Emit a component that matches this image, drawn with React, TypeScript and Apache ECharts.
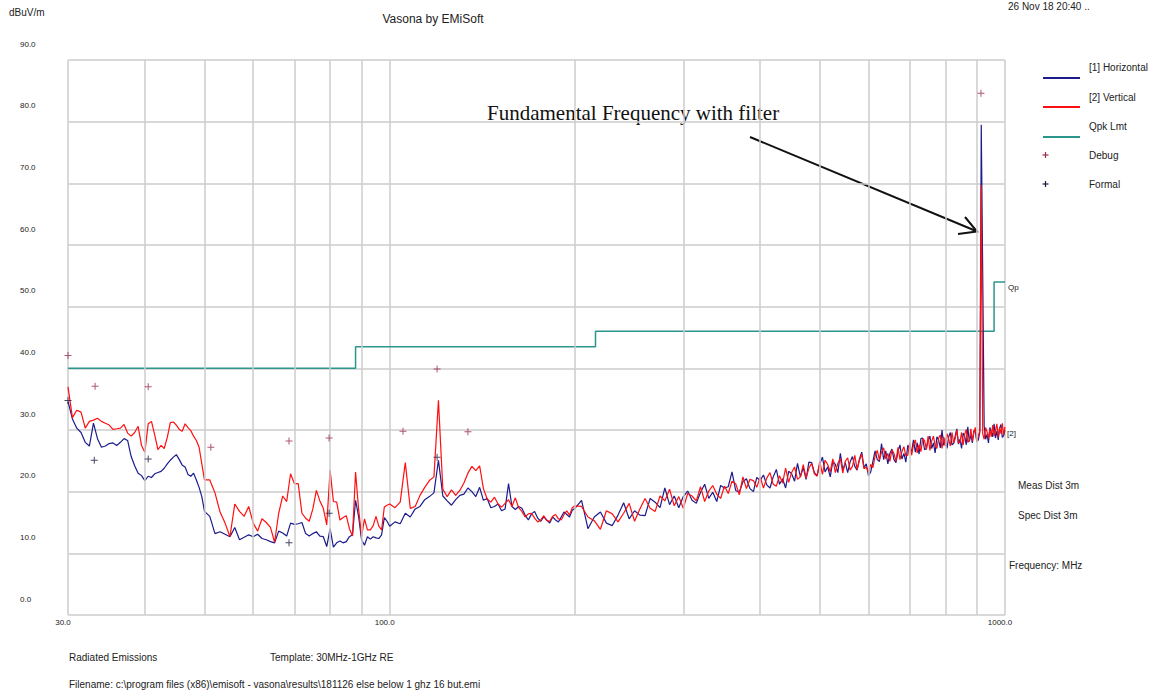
import React, { useEffect, useRef } from "react";
import * as echarts from "echarts";

// ---------- DATA ----------
const freqs = [
  30, 30.5, 31, 31.5, 32, 32.5, 33, 33.5, 34, 34.5, 35, 35.5, 36, 36.5, 37, 37.5, 38, 38.5, 39, 39.5,
  40, 40.5, 41, 41.5, 42, 42.5, 43, 43.5, 44, 44.5, 45, 45.5, 46, 46.5, 47, 47.5, 48, 48.5, 49, 49.5, 50,
  51, 52, 53, 54, 55, 56, 57, 58, 59, 60, 61, 62, 63, 64, 65, 66, 67, 68, 69, 70,
  71, 72, 73, 74, 75, 76, 77, 78, 79, 80, 81, 82, 83, 84, 85, 86, 87, 88, 89, 90,
  91, 92, 93, 94, 95, 96, 97, 98, 99, 100,
  102, 104, 106, 108, 110, 112, 114, 116, 118, 120, 122, 124, 126, 128, 130, 132, 134, 136, 138, 140,
  142, 144, 146, 148, 150, 152, 154, 156, 158, 160, 162, 164, 166, 168, 170, 172, 174, 176, 178, 180,
  182, 184, 186, 188, 190, 192, 194, 196, 198, 200,
  205, 210, 215, 220, 225, 230, 235, 240, 245, 250, 255, 260, 265, 270, 275, 280, 285, 290, 295, 300,
  305, 310, 315, 320, 325, 330, 335, 340, 345, 350, 355, 360, 365, 370, 375, 380, 385, 390, 395, 400,
  405, 410, 415, 420, 425, 430, 435, 440, 445, 450, 455, 460, 465, 470, 475, 480, 485, 490, 495, 500,
  505, 510, 515, 520, 525, 530, 535, 540, 545, 550, 555, 560, 565, 570, 575, 580, 585, 590, 595, 600,
  605, 610, 615, 620, 625, 630, 635, 640, 645, 650, 655, 660, 665, 670, 675, 680, 685, 690, 695, 700,
  705, 710, 715, 720, 725, 730, 735, 740, 745, 750, 755, 760, 765, 770, 775, 780, 785, 790, 795, 800,
  805, 810, 815, 820, 825, 830, 835, 840, 845, 850, 855, 860, 865, 870, 875, 880, 885, 890, 895, 900,
  905, 910, 915, 920, 925, 930, 935, 940, 945, 950, 955, 960, 965, 970, 975, 980, 985, 990, 995, 1000,
];

// [1] Horizontal (dBuV/m)
const horizontal = [
  34.6, 31.8, 30.3, 29.6, 28.0, 27.4, 31.1, 28.6, 27.2, 27.4, 27.8, 27.9, 27.5, 28.0, 28.6, 28.3, 25.7, 24.2, 23.0, 22.6,
  21.8, 22.5, 22.3, 22.9, 23.1, 23.3, 23.8, 24.5, 25.1, 25.6, 26.0, 25.2, 24.3, 24.0, 22.8, 22.5, 23.0, 21.9, 20.7, 19.2, 16.8,
  16.0, 13.2, 13.5, 13.1, 12.7, 14.2, 12.2, 12.6, 13.0, 12.7, 13.1, 12.4, 12.2, 11.9, 11.7, 13.6, 13.3, 12.8, 14.9, 14.7,
  14.8, 15.0, 13.2, 12.8, 13.2, 13.5, 12.8, 12.7, 11.1, 14.0, 11.0, 11.7, 12.0, 11.7, 11.9, 12.7, 13.0, 18.6, 16.0, 12.2,
  11.3, 12.7, 12.3, 12.7, 12.5, 12.4, 13.0, 15.8, 15.2, 14.4,
  15.1, 14.8, 16.5, 15.9, 17.2, 17.6, 18.7, 19.2, 19.8, 25.1, 19.3, 18.5, 17.8, 18.7, 19.4, 19.6, 20.6, 20.0, 19.2, 20.7,
  18.6, 18.9, 17.4, 17.6, 18.0, 16.9, 17.2, 21.3, 17.6, 17.1, 17.6, 17.3, 16.2, 15.4, 16.4, 16.8, 15.7, 15.2, 15.9, 15.4,
  14.9, 15.9, 15.4, 15.1, 15.9, 16.7, 16.3, 15.9, 17.0, 17.3,
  18.6, 14.0, 15.9, 16.7, 14.9, 14.5, 16.2, 18.2, 15.6, 16.9, 16.2, 16.1, 18.9, 18.3, 17.4, 20.6, 17.9, 19.3, 17.4, 19.2,
  20.1, 18.6, 18.1, 19.9, 21.2, 18.9, 19.9, 18.4, 21.0, 20.6, 20.8, 23.2, 20.2, 19.9, 21.6, 22.1, 20.5, 20.0, 22.3, 21.8,
  22.7, 21.1, 20.6, 22.4, 23.6, 21.2, 22.1, 20.6, 23.3, 22.9, 21.7, 24.6, 22.4, 23.9, 22.0, 24.8, 24.7, 23.1, 22.6, 24.5,
  25.6, 23.2, 24.0, 22.4, 25.0, 24.4, 23.1, 26.2, 23.5, 24.7, 23.1, 24.8, 25.7, 24.1, 23.5, 25.3, 26.4, 23.9, 24.5, 22.6,
  23.2, 24.9, 26.6, 25.2, 24.9, 27.8, 25.2, 26.6, 24.5, 26.2, 26.9, 25.2, 24.7, 26.5, 27.6, 25.3, 26.2, 24.8, 27.5, 27.0,
  26.5, 28.4, 26.4, 27.9, 26.1, 28.6, 28.7, 26.8, 27.0, 28.3, 29.0, 27.0, 27.9, 26.3, 28.9, 28.4, 27.1, 30.0, 27.5, 28.7,
  27.0, 28.9, 29.6, 27.6, 27.8, 29.0, 30.2, 27.7, 28.5, 27.0, 29.5, 29.0, 27.6, 30.5, 28.1, 29.2, 27.9, 29.9, 29.7, 28.1,
  28.4, 29.6, 79.5, 55.2, 30.6, 28.5, 29.3, 27.9, 30.4, 29.7, 28.9, 31.0, 28.7, 29.8, 28.4, 30.3, 30.9, 28.8, 29.1, 30.0,
];

// [2] Vertical (dBuV/m)
const vertical = [
  37.0, 32.0, 33.2, 32.9, 30.3, 31.4, 31.6, 31.9, 31.4, 31.1, 30.8, 30.1, 30.2, 30.3, 30.9, 29.5, 29.0, 29.6, 30.6, 27.5,
  26.4, 31.0, 31.4, 29.2, 26.8, 27.5, 27.0, 28.8, 31.2, 31.3, 30.8, 30.1, 29.8, 31.0, 30.4, 29.9, 29.0, 28.3, 27.2, 24.5, 21.9,
  21.9, 19.8, 16.7, 14.9, 12.7, 18.0, 16.8, 16.0, 17.6, 14.9, 13.6, 15.6, 15.0, 14.2, 11.8, 16.5, 19.3, 18.4, 22.9, 21.3,
  21.3, 16.5, 15.7, 15.2, 17.2, 20.2, 18.5, 17.3, 14.6, 23.5, 18.4, 18.3, 15.4, 15.8, 16.1, 14.0, 12.8, 23.2, 17.2, 12.7,
  15.6, 13.8, 13.8, 14.5, 16.0, 14.4, 13.8, 17.5, 17.8, 18.0,
  17.4, 18.3, 24.7, 17.3, 17.6, 19.4, 20.7, 21.8, 22.4, 34.8, 20.4, 19.2, 20.3, 19.4, 20.2, 21.4, 23.0, 24.1, 23.4, 24.2,
  20.5, 18.8, 18.3, 19.1, 18.0, 17.5, 18.1, 18.7, 17.6, 19.0, 17.4, 16.8, 15.9, 16.4, 16.5, 15.7, 15.1, 15.4, 16.1, 15.3,
  15.2, 16.0, 16.3, 15.6, 15.4, 16.3, 16.9, 16.2, 17.4, 17.7,
  17.6, 15.9, 15.3, 13.9, 16.9, 16.4, 15.1, 16.5, 18.1, 15.2, 17.2, 18.9, 17.3, 16.8, 19.3, 18.5, 20.4, 17.7, 19.2, 17.3,
  19.7, 19.3, 18.5, 20.8, 18.4, 20.1, 21.0, 19.6, 18.9, 20.9, 19.7, 21.7, 21.3, 19.5, 22.4, 20.5, 22.0, 21.8, 20.7, 22.4,
  20.6, 22.2, 23.1, 21.2, 20.9, 22.6, 21.4, 23.8, 21.5, 23.1, 24.0, 22.0, 22.4, 24.4, 22.2, 23.8, 24.6, 22.9, 22.5, 24.9,
  22.8, 25.1, 24.4, 23.2, 25.3, 23.1, 24.6, 25.4, 23.0, 24.9, 25.5, 23.5, 24.1, 25.9, 23.6, 25.1, 26.1, 23.7, 24.0, 23.1,
  24.4, 23.9, 25.8, 26.7, 25.1, 26.4, 27.1, 25.3, 26.2, 24.9, 26.8, 26.2, 24.9, 27.2, 25.2, 26.5, 27.3, 25.8, 25.9, 27.9,
  25.9, 27.6, 28.4, 26.3, 27.6, 26.5, 28.6, 28.3, 26.8, 29.0, 26.7, 28.2, 29.0, 27.5, 27.0, 28.7, 29.2, 27.0, 28.9, 27.4,
  29.4, 28.5, 27.4, 29.6, 27.9, 28.6, 30.0, 27.9, 28.0, 29.6, 27.6, 29.3, 30.1, 28.0, 28.3, 30.2, 28.2, 29.6, 30.4, 28.1,
  29.1, 29.8, 69.7, 29.4, 28.5, 30.4, 29.7, 28.6, 30.1, 28.9, 30.8, 29.0, 29.9, 31.0, 28.8, 30.3, 29.4, 31.1, 29.2, 30.5,
];

// Qpk Lmt (FCC class B, 3 m)
const limitFreqs = [30, 88, 88, 216, 216, 960, 960, 1000];
const limitValues = [40, 40, 43.5, 43.5, 46, 46, 54, 54];

const debugFreqs = [30, 33.2, 40.5, 51.2, 68.6, 79.7, 105.1, 119.4, 134.0, 914];
const debugValues = [42.1, 37.1, 37.0, 27.2, 28.2, 28.7, 29.8, 39.9, 29.7, 84.6];

const formalFreqs = [30, 33.1, 40.5, 68.6, 79.7, 119.4];
const formalValues = [34.8, 25.1, 25.3, 11.7, 16.5, 25.6];

const minorGridFreqs = [40, 50, 60, 70, 80, 90, 200, 300, 400, 500, 600, 700, 800, 900];

// ---------- STYLE ----------
const GRID = "#cccccc";
const BLUE = "#1c1c8c";
const RED = "#ff0f0f";
const TEAL = "#2a968c";
const DEBUG = "#9c2d4a";
const FORMAL = "#1a1a40";
const SANS = '"Liberation Sans", Arial, sans-serif';
const SERIF = '"Liberation Serif", "Times New Roman", serif';
const PLUS = "path://M3,0h1v3h3v1h-3v3h-1v-3h-3v-1h3z";

const txt = (text: string, x: number, y: number, size = 10, align = "left", font = SANS, color = "#222") => ({
  type: "text",
  x,
  y,
  silent: true,
  style: {
    text,
    fill: color,
    font: `${size}px ${font}`,
    align,
    verticalAlign: "middle",
    textAlign: align,
    textVerticalAlign: "middle",
  },
});

const ln = (x1: number, y1: number, x2: number, y2: number, color: string, w = 2) => ({
  type: "line",
  silent: true,
  shape: { x1, y1, x2, y2 },
  style: { stroke: color, lineWidth: w },
});

export default function App() {
  const ref = useRef<HTMLDivElement>(null);

  useEffect(() => {
    if (!ref.current) return;
    const chart = echarts.init(ref.current, null, { renderer: "svg" });

    const option: any = {
      animation: false,
      backgroundColor: "#ffffff",
      grid: { left: 68, right: 151, top: 60, bottom: 79, containLabel: false },
      xAxis: {
        type: "log",
        logBase: 10,
        min: 30,
        max: 1000,
        axisLine: { show: false },
        axisTick: { show: false },
        splitLine: { show: true, lineStyle: { color: GRID, width: 1.5 } },
        axisLabel: {
          showMinLabel: true,
          showMaxLabel: true,
          formatter: (v: number) => Number(v).toFixed(1),
          fontSize: 8,
          fontFamily: SANS,
          color: "#222",
          margin: 3,
          padding: [0, 10, 0, 0],
        },
      },
      yAxis: {
        type: "value",
        min: 0,
        max: 90,
        interval: 10,
        axisLine: { show: false },
        axisTick: { show: false },
        splitLine: { show: true, lineStyle: { color: GRID, width: 1.5 } },
        axisLabel: {
          formatter: (v: number) => Number(v).toFixed(1),
          fontSize: 8,
          fontFamily: SANS,
          color: "#222",
          align: "left",
          margin: 48,
          verticalAlign: "bottom",
          padding: [0, 0, 12, 0],
        },
      },
      series: [
        {
          name: "grid",
          type: "line",
          data: [],
          silent: true,
          z: 1,
          markLine: {
            silent: true,
            symbol: ["none", "none"],
            label: { show: false },
            lineStyle: { color: GRID, width: 1.5, type: "solid" },
            data: minorGridFreqs.map((f) => ({ xAxis: f })),
            animation: false,
          },
        },
        {
          name: "Qpk Lmt",
          type: "line",
          data: limitFreqs.map((f, i) => [f, limitValues[i]]),
          showSymbol: false,
          symbol: "none",
          lineStyle: { color: TEAL, width: 1.5 },
          z: 2,
          silent: true,
        },
        {
          name: "[1] Horizontal",
          type: "line",
          data: freqs.map((f, i) => [f, horizontal[i]]),
          showSymbol: false,
          symbol: "none",
          lineStyle: { color: BLUE, width: 1.2 },
          z: 3,
          silent: true,
        },
        {
          name: "[2] Vertical",
          type: "line",
          data: freqs.map((f, i) => [f, vertical[i]]),
          showSymbol: false,
          symbol: "none",
          lineStyle: { color: RED, width: 1.2 },
          z: 4,
          silent: true,
        },
        {
          name: "Debug",
          type: "scatter",
          data: debugFreqs.map((f, i) => [f, debugValues[i]]),
          symbol: PLUS,
          symbolSize: 7,
          itemStyle: { color: DEBUG },
          z: 6,
          silent: true,
        },
        {
          name: "Formal",
          type: "scatter",
          data: formalFreqs.map((f, i) => [f, formalValues[i]]),
          symbol: PLUS,
          symbolSize: 7,
          itemStyle: { color: FORMAL },
          z: 6,
          silent: true,
        },
      ],
      graphic: [
        txt("dBuV/m", 9, 12, 10),
        txt("Vasona by EMiSoft", 433, 19, 12, "center"),
        txt("26 Nov 18 20:40 ..", 1008, 6, 10),
        // legend
        ln(1043, 78, 1080, 78, BLUE),
        txt("[1] Horizontal", 1089, 67, 10),
        ln(1043, 107, 1080, 107, RED),
        txt("[2] Vertical", 1089, 97, 10),
        ln(1043, 137, 1080, 137, TEAL),
        txt("Qpk Lmt", 1089, 126, 10),
        ln(1042.5, 155, 1048.5, 155, DEBUG, 1.2),
        ln(1045.5, 152, 1045.5, 158, DEBUG, 1.2),
        txt("Debug", 1089, 155, 10),
        ln(1042.5, 184, 1048.5, 184, FORMAL, 1.2),
        ln(1045.5, 181, 1045.5, 187, FORMAL, 1.2),
        txt("Formal", 1089, 184, 10),
        // right side notes
        txt("Qp", 1008, 287, 8),
        txt("[2]", 1007, 433, 8),
        txt("Meas Dist 3m", 1018, 485, 10),
        txt("Spec Dist 3m", 1018, 515, 10),
        txt("Frequency: MHz", 1009, 565, 10),
        // bottom notes
        txt("Radiated Emissions", 69, 657, 10),
        txt("Template: 30MHz-1GHz RE", 270, 657, 10),
        txt("Filename: c:\\program files (x86)\\emisoft - vasona\\results\\181126 else below 1 ghz 16 but.emi", 69, 684, 10),
        // annotation
        txt("Fundamental Frequency with filter", 487, 113, 21, "left", SERIF, "#111"),
        ln(750, 137, 976, 231, "#111", 2),
        {
          type: "polyline",
          silent: true,
          shape: { points: [[965, 217], [977, 231.5], [958, 234]] },
          style: { stroke: "#111", lineWidth: 2, fill: null },
        },
      ],
    };

    chart.setOption(option);
    return () => chart.dispose();
  }, []);

  return (
    <div
      ref={ref}
      style={{ position: "fixed", left: 0, top: 0, width: 1156, height: 694, background: "#fff" }}
    />
  );
}
